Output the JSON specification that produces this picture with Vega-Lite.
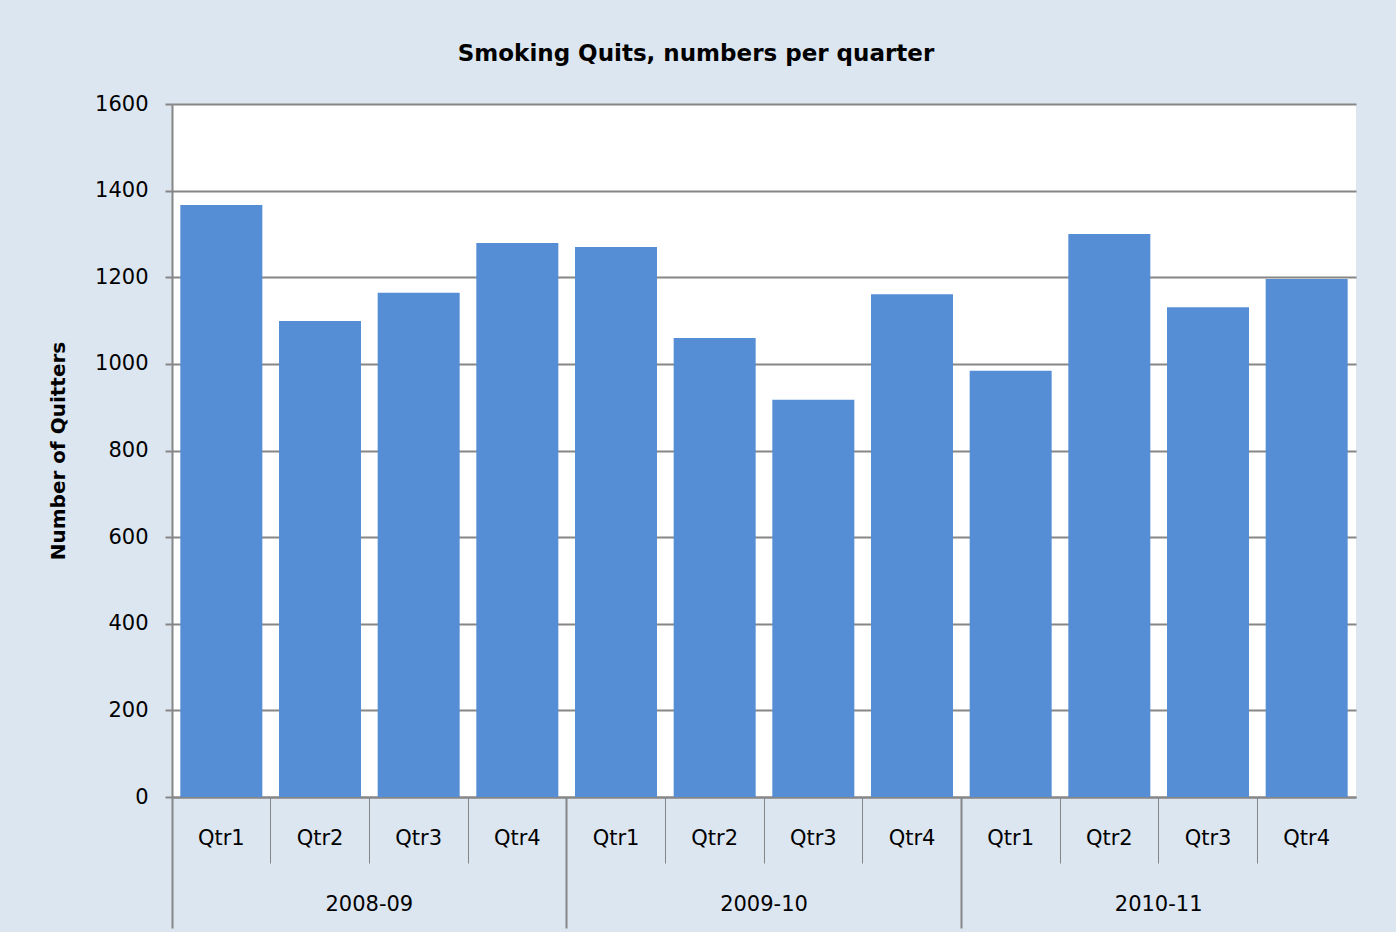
{
  "$schema": "https://vega.github.io/schema/vega-lite/v6.json",
  "width": 1184,
  "height": 693,
  "autosize": {"type": "none"},
  "padding": {"left": 172, "top": 104, "right": 40, "bottom": 135},
  "background": "#dce6f1",
  "title": {
    "text": "Smoking Quits, numbers per quarter",
    "font": "DejaVu Sans",
    "fontSize": 23,
    "fontWeight": "bold",
    "color": "#000000",
    "anchor": "middle",
    "frame": "group",
    "dx": -68,
    "offset": 27
  },
  "data": {
    "values": [
      {"key": "2008-09 Qtr1", "year": "2008-09", "quarter": "Qtr1", "quitters": 1367},
      {"key": "2008-09 Qtr2", "year": "2008-09", "quarter": "Qtr2", "quitters": 1099},
      {"key": "2008-09 Qtr3", "year": "2008-09", "quarter": "Qtr3", "quitters": 1164},
      {"key": "2008-09 Qtr4", "year": "2008-09", "quarter": "Qtr4", "quitters": 1279},
      {"key": "2009-10 Qtr1", "year": "2009-10", "quarter": "Qtr1", "quitters": 1270},
      {"key": "2009-10 Qtr2", "year": "2009-10", "quarter": "Qtr2", "quitters": 1060},
      {"key": "2009-10 Qtr3", "year": "2009-10", "quarter": "Qtr3", "quitters": 917},
      {"key": "2009-10 Qtr4", "year": "2009-10", "quarter": "Qtr4", "quitters": 1161},
      {"key": "2010-11 Qtr1", "year": "2010-11", "quarter": "Qtr1", "quitters": 984},
      {"key": "2010-11 Qtr2", "year": "2010-11", "quarter": "Qtr2", "quitters": 1300},
      {"key": "2010-11 Qtr3", "year": "2010-11", "quarter": "Qtr3", "quitters": 1131},
      {"key": "2010-11 Qtr4", "year": "2010-11", "quarter": "Qtr4", "quitters": 1196}
    ]
  },
  "layer": [
    {
      "mark": {"type": "bar", "opacity": 0},
      "encoding": {
        "x": {
          "field": "year",
          "type": "nominal",
          "sort": null,
          "scale": {"type": "band", "paddingInner": 0, "paddingOuter": 0},
          "axis": {
            "orient": "bottom",
            "title": null,
            "labelAngle": 0,
            "labelFont": "DejaVu Sans",
            "labelFontSize": 21,
            "labelColor": "#000000",
            "labelBaseline": "middle",
            "labelPadding": -24,
            "bandPosition": 0,
            "tickSize": 131,
            "tickColor": "#868686",
            "tickWidth": 2,
            "domain": false,
            "grid": false
          }
        }
      }
    },
    {
      "mark": {"type": "bar", "color": "#558ed5", "width": 82},
      "encoding": {
        "x": {
          "field": "key",
          "type": "nominal",
          "sort": null,
          "scale": {"type": "band", "paddingInner": 0, "paddingOuter": 0},
          "axis": {
            "orient": "bottom",
            "title": null,
            "labelExpr": "slice(datum.value, 8)",
            "labelAngle": 0,
            "labelFont": "DejaVu Sans",
            "labelFontSize": 21,
            "labelColor": "#000000",
            "labelBaseline": "middle",
            "labelPadding": -25,
            "bandPosition": 0,
            "tickSize": 66,
            "tickColor": "#868686",
            "tickWidth": 1,
            "domainColor": "#868686",
            "domainWidth": 2,
            "grid": false
          }
        },
        "y": {
          "field": "quitters",
          "type": "quantitative",
          "scale": {"domain": [0, 1600], "nice": false},
          "axis": {
            "title": "Number of Quitters",
            "titleFont": "DejaVu Sans",
            "titleFontSize": 20,
            "titleFontWeight": "bold",
            "titleColor": "#000000",
            "titlePadding": 26,
            "values": [0, 200, 400, 600, 800, 1000, 1200, 1400, 1600],
            "format": "d",
            "labelFont": "DejaVu Sans",
            "labelFontSize": 21,
            "labelColor": "#000000",
            "labelPadding": 17,
            "tickSize": 7,
            "tickColor": "#868686",
            "tickWidth": 2,
            "domainColor": "#868686",
            "domainWidth": 2,
            "grid": true,
            "gridColor": "#868686",
            "gridWidth": 2
          }
        }
      }
    }
  ],
  "resolve": {"scale": {"x": "independent"}, "axis": {"x": "independent"}},
  "config": {"view": {"stroke": null, "fill": "#ffffff"}}
}
